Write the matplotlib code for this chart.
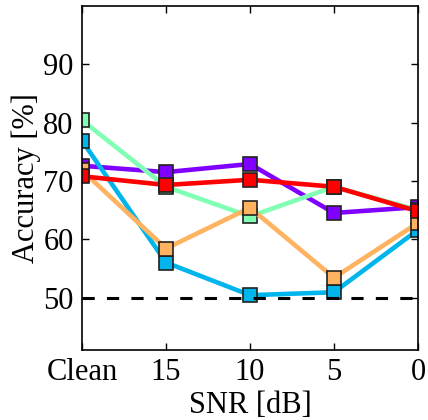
#!/usr/bin/env python3

import matplotlib
matplotlib.use('Agg')
import matplotlib.pyplot as plt
import numpy as np

textsize = 22

# SNR conditions and accuracies (%) per model
snr_labels = ['Clean', '15', '10', '5', '0']
purple_acc = [72.6, 71.5, 72.9, 64.5, 65.5]
blue_acc = [76.9, 56.0, 50.4, 50.9, 61.6]
green_acc = [80.4, 69.0, 63.9, 69.0, 65.0]
orange_acc = [71.8, 58.4, 65.4, 53.4, 62.8]
red_acc = [70.8, 69.3, 70.2, 69.0, 64.8]
chance_level = 50

plt.rcParams['font.family'] = ['Liberation Serif', 'DejaVu Serif']

fig = plt.figure(figsize=(4.28, 4.2), dpi=100)
ax = fig.add_axes([0.1916, 0.1667, 0.785, 0.819])

x = np.arange(len(snr_labels))
series = [purple_acc, blue_acc, green_acc, orange_acc, red_acc]
colors = plt.cm.rainbow(np.linspace(0, 1, len(series)))

for acc, c in zip(series, colors):
    ax.plot(x, acc, color=c, lw=3.3, marker='s', markersize=10,
            markeredgecolor='#222222', markeredgewidth=1.2)

ax.axhline(chance_level, color='black', ls='--', lw=2.2, dashes=(4, 4))

ax.set_xlim(0, len(snr_labels) - 1)
ax.set_ylim(41, 100)
ax.set_xticks(x)
ax.set_xticklabels(snr_labels)
ax.set_yticks([50, 60, 70, 80, 90])

ax.set_xlabel('SNR [dB]', fontsize=textsize, labelpad=3)
ax.set_ylabel('Accuracy [%]', fontsize=textsize, labelpad=2)

ax.tick_params(direction='in', length=5, width=1, top=True, right=True,
               labelsize=textsize, pad=6)
for s in ax.spines.values():
    s.set_linewidth(1.2)

fig.savefig('out.png', dpi=100)
